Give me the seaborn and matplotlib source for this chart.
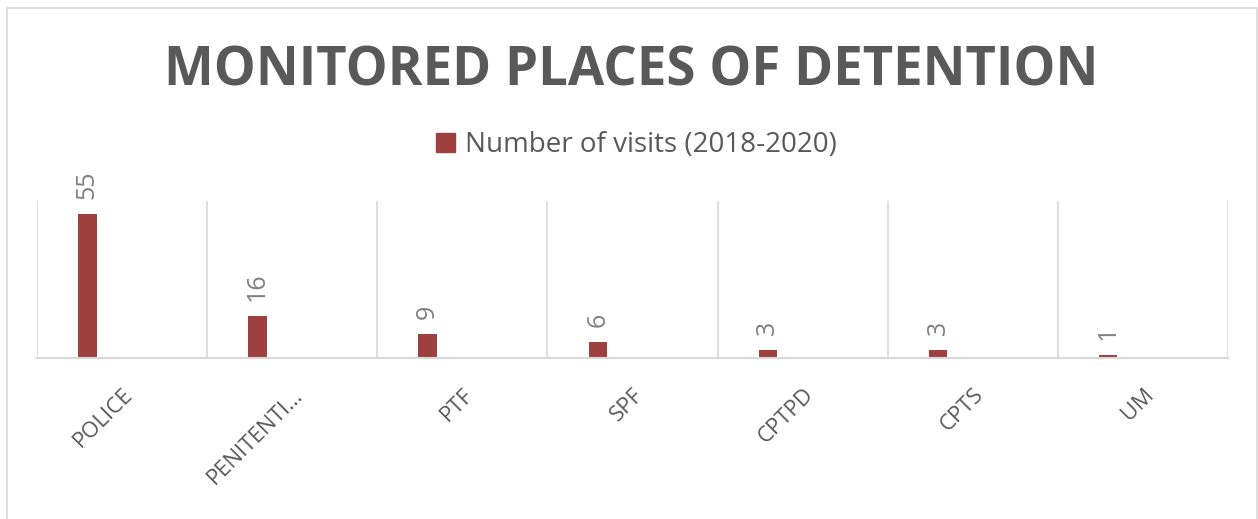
import matplotlib
matplotlib.use("Agg")
import matplotlib.pyplot as plt
import matplotlib.patches as mpatches
import seaborn as sns
import pandas as pd

# ---- data ----
categories = ["POLICE", "PENITENTI…", "PTF", "SPF", "CPTPD", "CPTS", "UM"]
visits = [55, 16, 9, 6, 3, 3, 1]
series_name = "Number of visits (2018-2020)"
# empty companion series of the original clustered layout (no values)
empty_series = [" ", "  ", "   "]

BAR = "#9E403F"
TEXT = "#595959"
LABEL = "#808080"
GRID = "#D9D9D9"

sns.set_theme(style="white")
plt.rcParams["font.family"] = ["Open Sans", "DejaVu Sans"]

df = pd.DataFrame({"category": categories, "visits": visits, "series": series_name})

fig = plt.figure(figsize=(12.58, 5.19), dpi=100)
ax = fig.add_axes([37 / 1258, 1 - 358 / 519, (1228 - 37) / 1258, (358 - 201) / 519])

hue_order = [series_name] + empty_series
palette = {h: BAR for h in hue_order}
sns.barplot(data=df, x="category", y="visits", hue="series", hue_order=hue_order,
            order=categories, palette=palette, width=0.544, gap=0.2,
            dodge=True, legend=False, ax=ax, saturation=1, edgecolor="none")

ax.set_ylim(0, 60)
ax.set_xlim(-0.5, len(categories) - 0.5)
ax.set_yticks([])
ax.set_xlabel("")
ax.set_ylabel("")

# vertical category separators
ax.set_xticks([i - 0.5 for i in range(len(categories) + 1)], minor=True)
ax.grid(True, which="minor", axis="x", color=GRID, lw=1.2)
ax.grid(False, which="major")
ax.tick_params(axis="x", which="both", length=0)

for s in ["top", "left", "right"]:
    ax.spines[s].set_visible(False)
ax.spines["bottom"].set_color(GRID)
ax.spines["bottom"].set_linewidth(1.5)

ax.set_xticks(range(len(categories)))
ax.set_xticklabels(categories, rotation=45, ha="right", va="top",
                   rotation_mode="anchor", fontsize=16, color=TEXT)
ax.tick_params(axis="x", which="major", pad=19)

for cont in ax.containers:
    if len(cont) and cont.datavalues is not None:
        labels = ["" if pd.isna(v) else f"{v:g}" for v in cont.datavalues]
        ax.bar_label(cont, labels=labels, rotation=90, padding=11,
                     fontsize=18, color=LABEL)

fig.text(0.5016, 1 - 86 / 519, "MONITORED PLACES OF DETENTION", ha="center",
         va="baseline", fontsize=38, fontweight="bold", color=TEXT)

handle = mpatches.Patch(color=BAR, label=series_name)
fig.legend(handles=[handle], loc="center", bbox_to_anchor=(0.506, 1 - 145 / 519),
           frameon=False, fontsize=20, handlelength=0.68, handleheight=0.68,
           handletextpad=0.35, labelcolor=TEXT)

border = mpatches.Rectangle((7 / 1258, -0.02), (1257 - 7) / 1258, (519 - 8) / 519 + 0.02,
                            transform=fig.transFigure, fill=False, edgecolor=GRID,
                            lw=1.2, clip_on=False)
fig.patches.append(border)

fig.savefig("out.png", dpi=100)
